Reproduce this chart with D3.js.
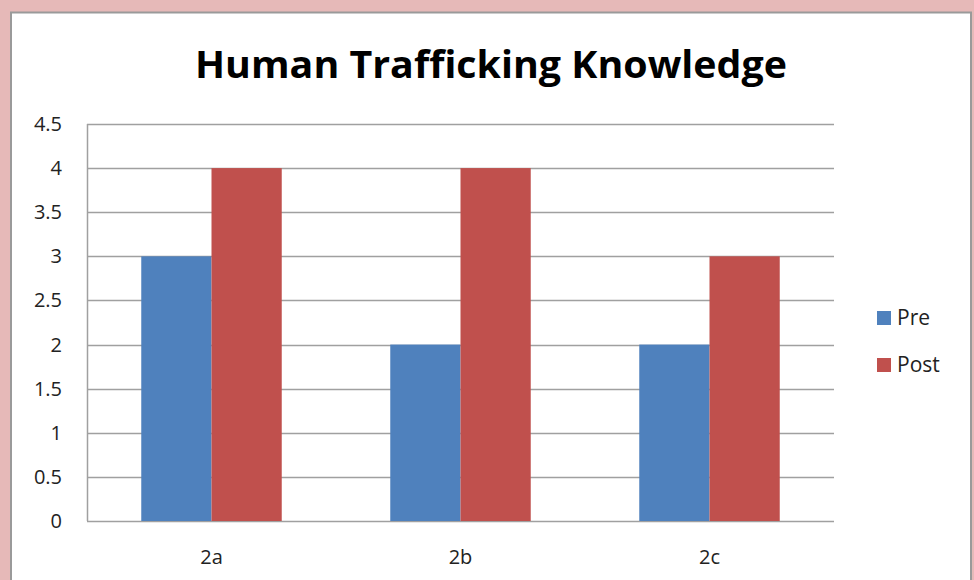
<!DOCTYPE html>
<html>
<head>
<meta charset="utf-8">
<script src="https://cdn.jsdelivr.net/npm/d3@7"></script>
<style>
  html, body { margin: 0; padding: 0; background: #e6b9b8; }
  svg { display: block; }
</style>
</head>
<body>
<svg id="chart" width="974" height="580"></svg>
<script>
const categories = ["2a", "2b", "2c"];
const seriesNames = ["Pre", "Post"];
const preValues = [3, 2, 2];
const postValues = [4, 4, 3];
const yTicks = [0, 0.5, 1, 1.5, 2, 2.5, 3, 3.5, 4, 4.5];

const colors = { Pre: "#4f81bd", Post: "#c0504d" };
const font = "'Open Sans', 'Noto Sans', sans-serif";

const rows = categories.map((c, i) => ({ cat: c, Pre: preValues[i], Post: postValues[i] }));

const svg = d3.select("#chart");

// white chart box
svg.append("rect")
  .attr("x", 11).attr("y", 12.5)
  .attr("width", 960).attr("height", 600)
  .attr("fill", "#fff")
  .attr("stroke", "#9a9a9a")
  .attr("stroke-width", 2);

const plot = { left: 87, right: 834, top: 124, bottom: 521 };

const x = d3.scaleBand()
  .domain(categories)
  .range([plot.left, plot.right]);

const x1 = d3.scaleBand()
  .domain(seriesNames)
  .range([0, x.bandwidth()])
  .paddingOuter(0.7725);

const y = d3.scaleLinear()
  .domain([0, 4.5])
  .range([plot.bottom, plot.top]);

// gridlines
svg.append("g")
  .selectAll("line")
  .data(yTicks)
  .join("line")
  .attr("x1", plot.left).attr("x2", plot.right)
  .attr("y1", d => Math.round(y(d)) + 0.5)
  .attr("y2", d => Math.round(y(d)) + 0.5)
  .attr("stroke", "#a0a0a0")
  .attr("stroke-width", 1.5);

// y axis line
svg.append("line")
  .attr("x1", plot.left + 0.5).attr("x2", plot.left + 0.5)
  .attr("y1", plot.top).attr("y2", plot.bottom)
  .attr("stroke", "#a0a0a0")
  .attr("stroke-width", 1.5);

// bars
svg.append("g")
  .selectAll("g")
  .data(rows)
  .join("g")
  .attr("transform", d => `translate(${x(d.cat)},0)`)
  .selectAll("rect")
  .data(d => seriesNames.map(s => ({ key: s, value: d[s] })))
  .join("rect")
  .attr("x", d => x1(d.key))
  .attr("width", x1.bandwidth())
  .attr("y", d => y(d.value))
  .attr("height", d => y(0) - y(d.value))
  .attr("fill", d => colors[d.key]);

// y tick labels
svg.append("g")
  .selectAll("text")
  .data(yTicks)
  .join("text")
  .attr("x", 62)
  .attr("y", d => y(d))
  .attr("dy", "0.35em")
  .attr("text-anchor", "end")
  .attr("font-family", font)
  .attr("font-size", 20)
  .attr("fill", "#222")
  .text(d => d);

// x labels
svg.append("g")
  .selectAll("text")
  .data(categories)
  .join("text")
  .attr("x", d => x(d) + x.bandwidth() / 2)
  .attr("y", 557)
  .attr("dy", "0.35em")
  .attr("text-anchor", "middle")
  .attr("font-family", font)
  .attr("font-size", 20)
  .attr("fill", "#222")
  .text(d => d);

// title
svg.append("text")
  .attr("x", 491)
  .attr("y", 78)
  .attr("text-anchor", "middle")
  .attr("font-family", font)
  .attr("font-weight", "bold")
  .attr("font-size", 38)
  .attr("textLength", 592)
  .attr("lengthAdjust", "spacingAndGlyphs")
  .attr("fill", "#000")
  .text("Human Trafficking Knowledge");

// legend
const legend = svg.append("g")
  .selectAll("g")
  .data(seriesNames)
  .join("g")
  .attr("transform", (d, i) => `translate(877,${318 + i * 47})`);

legend.append("rect")
  .attr("x", 0).attr("y", -7)
  .attr("width", 14).attr("height", 14)
  .attr("fill", d => colors[d]);

legend.append("text")
  .attr("x", 20)
  .attr("y", 0)
  .attr("dy", "0.35em")
  .attr("font-family", font)
  .attr("font-size", 21)
  .attr("fill", "#222")
  .text(d => d);
</script>
</body>
</html>
